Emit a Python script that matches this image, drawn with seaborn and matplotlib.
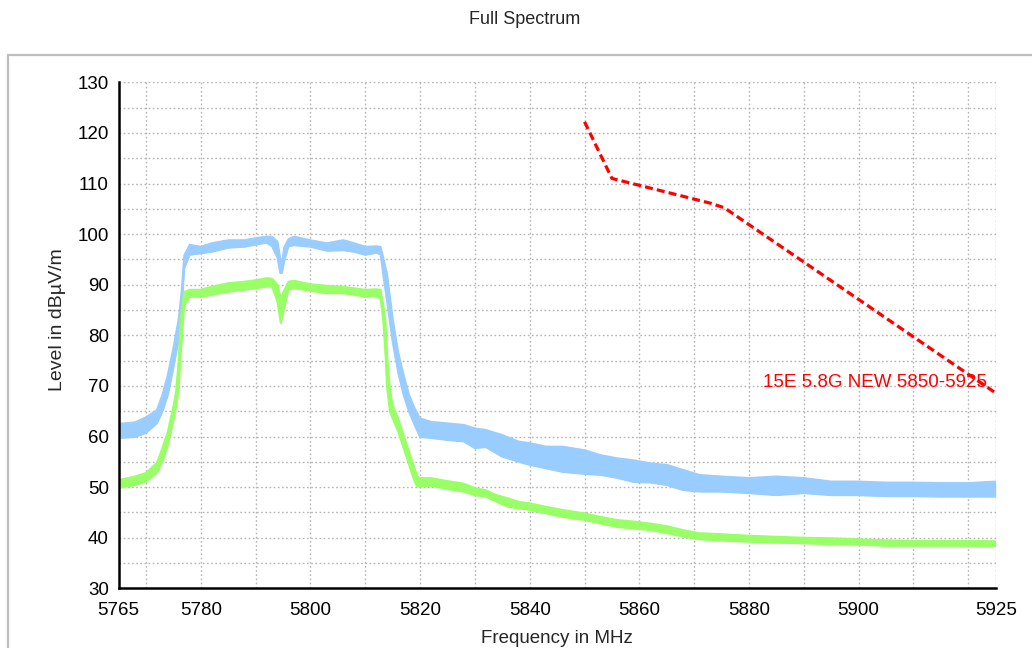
import numpy as np
import pandas as pd
import matplotlib
matplotlib.use("Agg")
import matplotlib.pyplot as plt
import seaborn as sns
from matplotlib.patches import Rectangle
from matplotlib.ticker import FixedLocator, MultipleLocator

# ---------------- data ----------------
blue_freq = [5765, 5768, 5770, 5772, 5773, 5774, 5775, 5776, 5776.5, 5777, 5778, 5780,
             5782, 5785, 5788, 5790, 5792, 5793, 5794, 5794.5, 5794.8, 5795.2, 5796, 5797,
             5800, 5803, 5806, 5808, 5810, 5812, 5812.8, 5813.3, 5814, 5815, 5816, 5817,
             5818, 5819, 5820, 5822, 5825, 5828, 5830, 5832, 5835, 5838, 5840, 5843, 5846,
             5850, 5853, 5856, 5859, 5862, 5865, 5868, 5871, 5875, 5880, 5885, 5890, 5895,
             5900, 5905, 5910, 5915, 5920, 5925]
blue_hi = [62.5, 62.8, 63.8, 65.2, 68.2, 72.2, 77.4, 83.4, 88.5, 95.8, 97.9, 97.5,
           98.2, 98.8, 98.8, 99.2, 99.5, 99.5, 98.5, 95.3, 94.0, 97.3, 99.0, 99.5,
           98.8, 98.2, 98.8, 98.2, 97.5, 97.6, 97.5, 95.3, 92.0, 83.4, 76.7, 72.2,
           68.2, 65.6, 63.6, 62.9, 62.6, 62.3, 61.6, 61.3, 60.3, 59.0, 58.7, 58.0, 58.0,
           57.3, 56.3, 55.7, 55.3, 54.7, 54.4, 53.4, 52.4, 52.1, 51.8, 52.1, 51.8, 51.1,
           51.1, 50.9, 50.9, 50.8, 50.8, 51.1]
blue_lo = [59.7, 59.9, 60.7, 62.6, 64.9, 68.2, 73.5, 79.4, 84.6, 93.3, 95.9, 96.2,
           96.5, 97.3, 97.5, 97.9, 98.3, 97.6, 95.3, 92.3, 92.3, 94.5, 97.6, 97.8,
           97.5, 96.7, 96.8, 96.5, 95.9, 96.3, 96.0, 91.9, 86.6, 78.7, 72.7, 68.2,
           64.9, 62.3, 59.9, 59.7, 59.3, 59.0, 57.7, 57.9, 56.0, 55.0, 54.4, 53.7, 53.0,
           52.6, 52.4, 51.8, 51.0, 50.9, 50.4, 49.4, 49.1, 49.1, 48.8, 48.4, 48.8, 48.4,
           48.4, 48.2, 48.2, 48.1, 48.1, 48.1]

green_freq = [5765, 5768, 5770, 5772, 5773, 5774, 5775, 5775.5, 5776, 5776.3, 5777, 5778,
              5780, 5782, 5785, 5788, 5790, 5792, 5793, 5794, 5794.6, 5795.1, 5796, 5797,
              5800, 5803, 5806, 5808, 5810, 5812, 5812.8, 5813.3, 5813.7, 5814, 5814.5,
              5815, 5816, 5817, 5818, 5819, 5819.5, 5820, 5822, 5825, 5828, 5830, 5832,
              5834, 5836, 5838, 5840, 5843, 5846, 5850, 5853, 5856, 5859, 5862, 5865,
              5868, 5871, 5875, 5880, 5885, 5890, 5895, 5900, 5905, 5910, 5915, 5920, 5925]
green_hi = [51.4, 52.1, 52.8, 54.8, 57.7, 61.0, 65.9, 68.9, 75.5, 83.0, 88.6, 89.0,
            89.0, 89.6, 90.3, 90.6, 90.9, 91.3, 91.2, 90.0, 87.4, 88.6, 90.6, 90.8,
            90.1, 89.8, 89.6, 89.3, 89.0, 89.1, 89.0, 86.0, 82.7, 76.1, 69.6,
            66.2, 63.6, 60.3, 57.0, 53.8, 52.1, 51.8, 51.8, 51.2, 50.7, 49.8, 49.4,
            48.4, 47.8, 47.1, 46.8, 46.1, 45.5, 44.8, 44.1, 43.5, 43.2, 42.8, 42.3,
            41.5, 40.9, 40.7, 40.4, 40.2, 40.0, 39.9, 39.7, 39.5, 39.4, 39.4, 39.4, 39.3]
green_lo = [49.8, 50.4, 51.1, 52.8, 55.0, 58.3, 63.0, 65.9, 69.6, 75.5, 86.0, 87.6,
            87.6, 88.0, 88.6, 89.0, 89.3, 89.6, 89.6, 86.6, 82.4, 84.7, 89.0, 89.3,
            88.8, 88.3, 88.3, 88.0, 87.6, 87.7, 87.3, 82.7, 76.1, 69.6, 64.9,
            63.6, 61.0, 57.7, 54.4, 51.1, 50.1, 50.1, 50.3, 49.6, 49.1, 48.4, 48.1,
            47.1, 46.1, 45.8, 45.5, 44.8, 44.1, 43.5, 42.8, 42.1, 41.8, 41.5, 40.9,
            40.2, 39.7, 39.4, 39.2, 39.0, 38.9, 38.7, 38.6, 38.4, 38.4, 38.4, 38.4, 38.3]

limit_freq = [5850, 5855, 5873, 5875.5, 5925]
limit_level = [122.2, 111.0, 106.1, 105.2, 68.6]
limit_label = "15E 5.8G NEW 5850-5925"

x_ticks = [5765, 5770, 5780, 5790, 5800, 5810, 5820, 5830, 5840, 5850, 5860,
           5870, 5880, 5890, 5900, 5910, 5920, 5925]
x_tick_labels = ["5765", "", "5780", "", "5800", "", "5820", "", "5840", "", "5860",
                 "", "5880", "", "5900", "", "", "5925"]
y_ticks = [30, 40, 50, 60, 70, 80, 90, 100, 110, 120, 130]

title = "Full Spectrum"
x_label = "Frequency in MHz"
y_label = "Level in dB\u00b5V/m"

# ---------------- style ----------------
sns.set_style("white")
plt.rcParams["font.family"] = ["Liberation Sans", "DejaVu Sans"]

BLUE = "#99ccff"
GREEN = "#99ff66"
GRID = "#b4b4b4"

fig = plt.figure(figsize=(10.32, 6.48), dpi=100)
ax = fig.add_axes([118.5 / 1032, 1 - 588.3 / 648, (995.7 - 118.5) / 1032, (588.3 - 82.3) / 648])

# panel frame (cut off at right and bottom like the reference)
frame = Rectangle((8 / 1032, -0.2), 1.2, 1 - 55 / 648 + 0.2, transform=fig.transFigure,
                  fill=False, edgecolor="#bdbdbd", linewidth=1.6, zorder=0)
fig.patches.append(frame)

blue_df = pd.DataFrame({"freq": blue_freq, "hi": blue_hi, "lo": blue_lo})
green_df = pd.DataFrame({"freq": green_freq, "hi": green_hi, "lo": green_lo})
limit_df = pd.DataFrame({"freq": limit_freq, "level": limit_level})

# blue trace band
ax.fill_between(blue_df["freq"], blue_df["lo"], blue_df["hi"], color=BLUE, linewidth=0, zorder=2)
sns.lineplot(data=blue_df, x="freq", y="hi", ax=ax, color=BLUE, linewidth=1.4, zorder=2)
sns.lineplot(data=blue_df, x="freq", y="lo", ax=ax, color=BLUE, linewidth=1.4, zorder=2)

# green trace band
ax.fill_between(green_df["freq"], green_df["lo"], green_df["hi"], color=GREEN, linewidth=0, zorder=3)
sns.lineplot(data=green_df, x="freq", y="hi", ax=ax, color=GREEN, linewidth=1.4, zorder=3)
sns.lineplot(data=green_df, x="freq", y="lo", ax=ax, color=GREEN, linewidth=1.4, zorder=3)

# limit line
sns.lineplot(data=limit_df, x="freq", y="level", ax=ax, color="red", linewidth=2.3,
             linestyle=(0, (2.5, 1.3)), zorder=4)
ax.text(5882.6, 70.6, limit_label, color="red", fontsize=13.5, ha="left", va="center", zorder=5)

# axes
ax.set_xlim(5765, 5925)
ax.set_ylim(30, 130)
ax.xaxis.set_major_locator(FixedLocator(x_ticks))
ax.set_xticklabels(x_tick_labels)
ax.yaxis.set_major_locator(FixedLocator(y_ticks))
ax.yaxis.set_minor_locator(MultipleLocator(5))

for s in ["top", "right"]:
    ax.spines[s].set_visible(False)
for s in ["left", "bottom"]:
    ax.spines[s].set_color("black")
    ax.spines[s].set_linewidth(1.8)
    ax.spines[s].set_zorder(6)

ax.tick_params(axis="both", which="major", direction="inout", length=8, width=1.5,
               color="black", labelsize=13.5, labelcolor="black")
ax.tick_params(axis="y", which="minor", direction="inout", length=8, width=1.5, color="black")
ax.tick_params(axis="y", which="major", pad=3)
ax.tick_params(axis="x", which="major", pad=6)

ax.grid(True, which="both", color=GRID, linestyle=(0, (1.2, 1.8)), linewidth=1.0, zorder=0)
ax.set_axisbelow(True)

ax.set_xlabel(x_label, fontsize=13.5, labelpad=8)
ax.set_ylabel(y_label, fontsize=14)
ax.yaxis.set_label_coords(-0.060, 0.530)
fig.text(0.508, 1 - 19 / 648, title, fontsize=13, ha="center", va="center")

fig.savefig("out.png", dpi=100)
